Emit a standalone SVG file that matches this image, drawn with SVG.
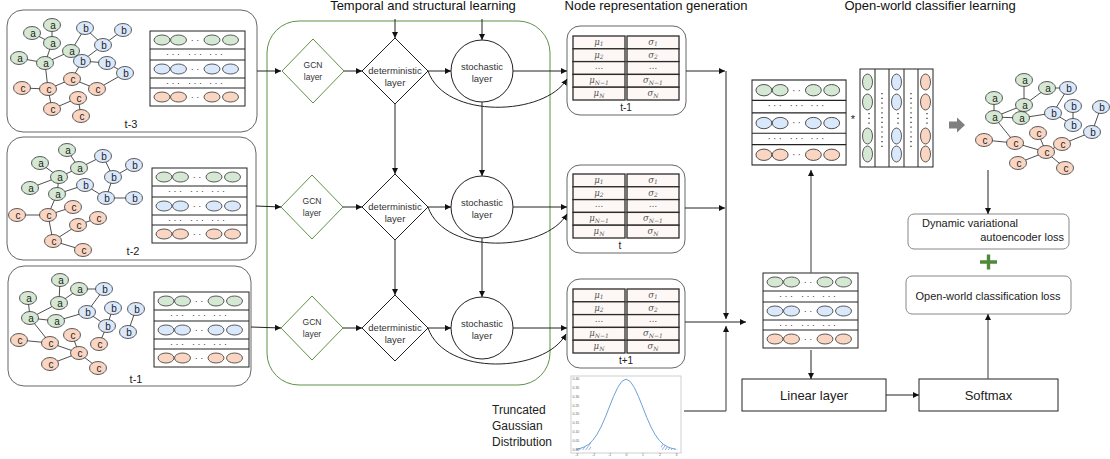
<svg xmlns="http://www.w3.org/2000/svg" xmlns:xlink="http://www.w3.org/1999/xlink" width="1110" height="459" viewBox="0 0 1110 459">
<style>
text{font-family:"Liberation Sans",Arial,sans-serif;fill:#222}
.title{font-size:13px;text-anchor:middle;fill:#111}
.panel{fill:#fff;stroke:#666;stroke-width:1}
.e{stroke:#222;stroke-width:0.8;fill:none}
.na{fill:#d5e8d4;stroke:#333;stroke-width:0.8}
.nb{fill:#dae8fc;stroke:#333;stroke-width:0.8}
.nc{fill:#f9d5c2;stroke:#333;stroke-width:0.8}
.nl{font-size:10px;text-anchor:middle;fill:#222}
.mat{fill:#fff;stroke:#222;stroke-width:1}
.dots{font-size:9px;text-anchor:middle;fill:#333}
.cell{fill:#fdf8f6;stroke:#2e2a2a;stroke-width:1.3}
.mt{font-family:"DejaVu Serif","Liberation Serif",serif;font-style:italic;font-size:8.5px;fill:#555;text-anchor:middle}
.sub{font-size:6px}
.gcn{fill:#fff;stroke:#5f9148;stroke-width:1}
.det{fill:#fff;stroke:#222;stroke-width:1}
.lbl{font-size:9.5px;text-anchor:middle;fill:#333}
.lbls{font-size:8.5px;text-anchor:middle;fill:#333}
.c{stroke:#222;stroke-width:1;fill:none}
.cg{stroke:#666;stroke-width:1.3;fill:none}
.box{fill:#fff;stroke:#222;stroke-width:1}
.loss{fill:#fff;stroke:#888;stroke-width:1}
.tk{font-size:3.5px;fill:#666}
</style>
<defs>
<marker id="ah" viewBox="0 0 10 10" refX="10" refY="5" markerWidth="6" markerHeight="6" markerUnits="userSpaceOnUse" orient="auto"><path d="M0,0 L10,5 L0,10 z" fill="#111"/></marker>
<pattern id="hatch" width="2.5" height="2.5" patternUnits="userSpaceOnUse" patternTransform="rotate(35)"><line x1="0" y1="0" x2="0" y2="2.5" stroke="#3d6fc4" stroke-width="0.9"/></pattern>
<g id="mat">
<rect class="mat" x="0" y="0" width="95" height="75"/>
<path d="M0,18 H95 M0,29 H95 M0,47 H95 M0,57 H95" stroke="#222" stroke-width="1"/>
<ellipse class="na" cx="12" cy="9" rx="8" ry="5"/><ellipse class="na" cx="28.5" cy="9" rx="8" ry="5"/><ellipse class="na" cx="62" cy="9" rx="8" ry="5"/><ellipse class="na" cx="80.5" cy="9" rx="8" ry="5"/>
<ellipse class="nb" cx="12" cy="38" rx="8" ry="5"/><ellipse class="nb" cx="28.5" cy="38" rx="8" ry="5"/><ellipse class="nb" cx="62" cy="38" rx="8" ry="5"/><ellipse class="nb" cx="80.5" cy="38" rx="8" ry="5"/>
<ellipse class="nc" cx="12" cy="66" rx="8" ry="5"/><ellipse class="nc" cx="28.5" cy="66" rx="8" ry="5"/><ellipse class="nc" cx="62" cy="66" rx="8" ry="5"/><ellipse class="nc" cx="80.5" cy="66" rx="8" ry="5"/>
<text class="dots" x="45" y="12">· ·</text><text class="dots" x="45" y="41">· ·</text><text class="dots" x="45" y="69">· ·</text>
<text class="dots" x="23" y="26">· · ·</text><text class="dots" x="45" y="26">· · ·</text><text class="dots" x="66" y="26">· · ·</text>
<text class="dots" x="23" y="55">· · ·</text><text class="dots" x="45" y="55">· · ·</text><text class="dots" x="66" y="55">· · ·</text>
</g>
<g id="tab">
<rect class="cell" x="0" y="0" width="52" height="12.8"/><rect class="cell" x="0" y="12.8" width="52" height="12.8"/><rect class="cell" x="0" y="25.6" width="52" height="12.8"/><rect class="cell" x="0" y="38.4" width="52" height="12.8"/><rect class="cell" x="0" y="51.2" width="52" height="12.8"/>
<rect class="cell" x="54" y="0" width="52" height="12.8"/><rect class="cell" x="54" y="12.8" width="52" height="12.8"/><rect class="cell" x="54" y="25.6" width="52" height="12.8"/><rect class="cell" x="54" y="38.4" width="52" height="12.8"/><rect class="cell" x="54" y="51.2" width="52" height="12.8"/>
<text class="mt" x="26" y="8.8">μ<tspan class="sub" dy="1.6">1</tspan></text>
<text class="mt" x="26" y="21.6">μ<tspan class="sub" dy="1.6">2</tspan></text>
<text class="mt" x="26" y="33">…</text>
<text class="mt" x="26" y="47.2">μ<tspan class="sub" dy="1.6">N−1</tspan></text>
<text class="mt" x="26" y="60">μ<tspan class="sub" dy="1.6">N</tspan></text>
<text class="mt" x="80" y="8.8">σ<tspan class="sub" dy="1.6">1</tspan></text>
<text class="mt" x="80" y="21.6">σ<tspan class="sub" dy="1.6">2</tspan></text>
<text class="mt" x="80" y="33">…</text>
<text class="mt" x="80" y="47.2">σ<tspan class="sub" dy="1.6">N−1</tspan></text>
<text class="mt" x="80" y="60">σ<tspan class="sub" dy="1.6">N</tspan></text>
</g>
</defs>

<rect width="1110" height="459" fill="#fff"/>

<text class="title" x="423" y="10">Temporal and structural learning</text>
<text class="title" x="656" y="10">Node representation generation</text>
<text class="title" x="930" y="10">Open-world classifier learning</text>

<!-- left snapshot panels -->
<g id="snap-t3">
<rect class="panel" x="7" y="10" width="250" height="122" rx="16"/>
<path class="e" d="M52,25 L52,43 M32,33 L52,43 M52,43 L45,63 M19,58 L45,63 M45,63 L71,51 L85,28 M85,28 L103,45 M123,30 L103,45 M103,45 L82,61 M82,61 L107,63 M107,63 L125,73 M125,73 L97,89 M82,61 L72,79 M72,79 L48,89 M22,88 L48,89 M72,79 L97,89 M45,63 L48,89 M48,89 L52,109 M78,98 L52,109 M78,98 L81,116"/>
<ellipse class="na" cx="52" cy="25" rx="8.5" ry="6.5"/><ellipse class="na" cx="32" cy="33" rx="8.5" ry="6.5"/><ellipse class="na" cx="52" cy="43" rx="8.5" ry="6.5"/><ellipse class="na" cx="71" cy="51" rx="8.5" ry="6.5"/><ellipse class="na" cx="19" cy="58" rx="8.5" ry="6.5"/><ellipse class="na" cx="45" cy="63" rx="8.5" ry="6.5"/>
<ellipse class="nb" cx="85" cy="28" rx="8.5" ry="6.5"/><ellipse class="nb" cx="123" cy="30" rx="8.5" ry="6.5"/><ellipse class="nb" cx="103" cy="45" rx="8.5" ry="6.5"/><ellipse class="nb" cx="82" cy="61" rx="8.5" ry="6.5"/><ellipse class="nb" cx="107" cy="63" rx="8.5" ry="6.5"/><ellipse class="nb" cx="125" cy="73" rx="8.5" ry="6.5"/>
<ellipse class="nc" cx="72" cy="79" rx="8.5" ry="6.5"/><ellipse class="nc" cx="22" cy="88" rx="8.5" ry="6.5"/><ellipse class="nc" cx="48" cy="89" rx="8.5" ry="6.5"/><ellipse class="nc" cx="97" cy="89" rx="8.5" ry="6.5"/><ellipse class="nc" cx="78" cy="98" rx="8.5" ry="6.5"/><ellipse class="nc" cx="52" cy="109" rx="8.5" ry="6.5"/><ellipse class="nc" cx="81" cy="116" rx="8.5" ry="6.5"/>
<text class="nl" x="53" y="28.5">a</text><text class="nl" x="33" y="36.5">a</text><text class="nl" x="53" y="46.5">a</text><text class="nl" x="72" y="54.5">a</text><text class="nl" x="20" y="61.5">a</text><text class="nl" x="46" y="66.5">a</text>
<text class="nl" x="86" y="31.5">b</text><text class="nl" x="124" y="33.5">b</text><text class="nl" x="104" y="48.5">b</text><text class="nl" x="83" y="64.5">b</text><text class="nl" x="108" y="66.5">b</text><text class="nl" x="126" y="76.5">b</text>
<text class="nl" x="73" y="82.5">c</text><text class="nl" x="23" y="91.5">c</text><text class="nl" x="49" y="92.5">c</text><text class="nl" x="98" y="92.5">c</text><text class="nl" x="79" y="101.5">c</text><text class="nl" x="53" y="112.5">c</text><text class="nl" x="82" y="119.5">c</text>
<use href="#mat" x="150" y="31"/>
<text x="131" y="128" font-size="11" text-anchor="middle">t-3</text>
</g>

<g id="snap-t2">
<rect class="panel" x="7" y="137" width="249" height="123" rx="16"/>
<path class="e" d="M67,150 L79,168 M40,163 L59,177 M59,177 L79,168 M79,168 L103,156 M30,188 L59,177 M57,194 L85,185 M59,177 L57,194 M103,156 L113,177 M134,165 L113,177 M113,177 L106,198 M85,185 L106,198 M106,198 L134,198 M73,207 L48,215 M17,215 L48,215 M57,194 L48,215 M48,215 L53,241 M53,241 L78,225 M78,225 L98,218 M53,241 L83,250"/>
<ellipse class="na" cx="67" cy="150" rx="8.5" ry="6.5"/><ellipse class="na" cx="40" cy="163" rx="8.5" ry="6.5"/><ellipse class="na" cx="79" cy="168" rx="8.5" ry="6.5"/><ellipse class="na" cx="59" cy="177" rx="8.5" ry="6.5"/><ellipse class="na" cx="30" cy="188" rx="8.5" ry="6.5"/><ellipse class="na" cx="57" cy="194" rx="8.5" ry="6.5"/>
<ellipse class="nb" cx="103" cy="156" rx="8.5" ry="6.5"/><ellipse class="nb" cx="134" cy="165" rx="8.5" ry="6.5"/><ellipse class="nb" cx="113" cy="177" rx="8.5" ry="6.5"/><ellipse class="nb" cx="85" cy="185" rx="8.5" ry="6.5"/><ellipse class="nb" cx="106" cy="198" rx="8.5" ry="6.5"/><ellipse class="nb" cx="134" cy="198" rx="8.5" ry="6.5"/>
<ellipse class="nc" cx="73" cy="207" rx="8.5" ry="6.5"/><ellipse class="nc" cx="17" cy="215" rx="8.5" ry="6.5"/><ellipse class="nc" cx="48" cy="215" rx="8.5" ry="6.5"/><ellipse class="nc" cx="98" cy="218" rx="8.5" ry="6.5"/><ellipse class="nc" cx="78" cy="225" rx="8.5" ry="6.5"/><ellipse class="nc" cx="53" cy="241" rx="8.5" ry="6.5"/><ellipse class="nc" cx="83" cy="250" rx="8.5" ry="6.5"/>
<text class="nl" x="68" y="153.5">a</text><text class="nl" x="41" y="166.5">a</text><text class="nl" x="80" y="171.5">a</text><text class="nl" x="60" y="180.5">a</text><text class="nl" x="31" y="191.5">a</text><text class="nl" x="58" y="197.5">a</text>
<text class="nl" x="104" y="159.5">b</text><text class="nl" x="135" y="168.5">b</text><text class="nl" x="114" y="180.5">b</text><text class="nl" x="86" y="188.5">b</text><text class="nl" x="107" y="201.5">b</text><text class="nl" x="135" y="201.5">b</text>
<text class="nl" x="74" y="210.5">c</text><text class="nl" x="18" y="218.5">c</text><text class="nl" x="49" y="218.5">c</text><text class="nl" x="99" y="221.5">c</text><text class="nl" x="79" y="228.5">c</text><text class="nl" x="54" y="244.5">c</text><text class="nl" x="84" y="253.5">c</text>
<use href="#mat" x="152" y="168"/>
<text x="133" y="255" font-size="11" text-anchor="middle">t-2</text>
</g>

<g id="snap-t1">
<rect class="panel" x="8" y="266" width="243" height="120" rx="16"/>
<path class="e" d="M60,280 L59,303 M59,303 L79,289 M79,289 L104,289 M28,298 L30,318 M30,318 L59,303 M30,318 L56,321 M30,318 L50,343 M56,321 L87,312 M104,289 L87,312 M87,312 L107,326 M113,308 L107,326 M136,309 L128,332 M107,326 L99,344 M19,340 L50,343 M50,343 L79,353 M72,335 L79,353 M79,353 L50,364 M79,353 L98,368"/>
<ellipse class="na" cx="60" cy="280" rx="8.5" ry="6.5"/><ellipse class="na" cx="79" cy="289" rx="8.5" ry="6.5"/><ellipse class="na" cx="28" cy="298" rx="8.5" ry="6.5"/><ellipse class="na" cx="59" cy="303" rx="8.5" ry="6.5"/><ellipse class="na" cx="30" cy="318" rx="8.5" ry="6.5"/><ellipse class="na" cx="56" cy="321" rx="8.5" ry="6.5"/>
<ellipse class="nb" cx="104" cy="289" rx="8.5" ry="6.5"/><ellipse class="nb" cx="113" cy="308" rx="8.5" ry="6.5"/><ellipse class="nb" cx="136" cy="309" rx="8.5" ry="6.5"/><ellipse class="nb" cx="87" cy="312" rx="8.5" ry="6.5"/><ellipse class="nb" cx="107" cy="326" rx="8.5" ry="6.5"/><ellipse class="nb" cx="128" cy="332" rx="8.5" ry="6.5"/>
<ellipse class="nc" cx="72" cy="335" rx="8.5" ry="6.5"/><ellipse class="nc" cx="19" cy="340" rx="8.5" ry="6.5"/><ellipse class="nc" cx="50" cy="343" rx="8.5" ry="6.5"/><ellipse class="nc" cx="99" cy="344" rx="8.5" ry="6.5"/><ellipse class="nc" cx="79" cy="353" rx="8.5" ry="6.5"/><ellipse class="nc" cx="50" cy="364" rx="8.5" ry="6.5"/><ellipse class="nc" cx="98" cy="368" rx="8.5" ry="6.5"/>
<text class="nl" x="61" y="283.5">a</text><text class="nl" x="80" y="292.5">a</text><text class="nl" x="29" y="301.5">a</text><text class="nl" x="60" y="306.5">a</text><text class="nl" x="31" y="321.5">a</text><text class="nl" x="57" y="324.5">a</text>
<text class="nl" x="105" y="292.5">b</text><text class="nl" x="114" y="311.5">b</text><text class="nl" x="137" y="312.5">b</text><text class="nl" x="88" y="315.5">b</text><text class="nl" x="108" y="329.5">b</text><text class="nl" x="129" y="335.5">b</text>
<text class="nl" x="73" y="338.5">c</text><text class="nl" x="20" y="343.5">c</text><text class="nl" x="51" y="346.5">c</text><text class="nl" x="100" y="347.5">c</text><text class="nl" x="80" y="356.5">c</text><text class="nl" x="51" y="367.5">c</text><text class="nl" x="99" y="371.5">c</text>
<use href="#mat" x="154" y="292"/>
<text x="136" y="383" font-size="11" text-anchor="middle">t-1</text>
</g>

<!-- temporal and structural learning frame -->
<g id="tsl-frame"><rect x="267" y="21" width="283" height="364" rx="32" fill="none" stroke="#5f9148" stroke-width="1"/></g>

<g id="gcn1"><path class="gcn" d="M313,39 L344,71 L313,103 L282,71 Z"/><text class="lbls" x="313" y="68">GCN</text><text class="lbls" x="313" y="80">layer</text></g>
<g id="gcn2"><path class="gcn" d="M312,175 L343,207 L312,239 L281,207 Z"/><text class="lbls" x="312" y="204">GCN</text><text class="lbls" x="312" y="216">layer</text></g>
<g id="gcn3"><path class="gcn" d="M312,296 L343,328 L312,360 L281,328 Z"/><text class="lbls" x="312" y="325">GCN</text><text class="lbls" x="312" y="337">layer</text></g>

<g id="det1"><path class="det" d="M395,38 L428,71 L395,104 L362,71 Z"/><text class="lbl" x="395" y="74">deterministic</text><text class="lbl" x="395" y="86">layer</text></g>
<g id="det2"><path class="det" d="M395,174 L428,207 L395,240 L362,207 Z"/><text class="lbl" x="395" y="210">deterministic</text><text class="lbl" x="395" y="222">layer</text></g>
<g id="det3"><path class="det" d="M395,295 L428,328 L395,361 L362,328 Z"/><text class="lbl" x="395" y="331">deterministic</text><text class="lbl" x="395" y="343">layer</text></g>

<g id="sto1"><circle class="det" cx="482" cy="71" r="31"/><text class="lbl" x="482" y="70">stochastic</text><text class="lbl" x="482" y="82">layer</text></g>
<g id="sto2"><circle class="det" cx="482" cy="207" r="31"/><text class="lbl" x="482" y="206">stochastic</text><text class="lbl" x="482" y="218">layer</text></g>
<g id="sto3"><circle class="det" cx="482" cy="328" r="31"/><text class="lbl" x="482" y="327">stochastic</text><text class="lbl" x="482" y="339">layer</text></g>

<!-- node representation panels -->
<g id="rep1"><rect class="panel" x="567" y="26" width="119" height="89" rx="13"/><use href="#tab" x="573" y="36"/><text x="626" y="111" font-size="10" text-anchor="middle">t-1</text></g>
<g id="rep2"><rect class="panel" x="567" y="165" width="118" height="88" rx="13"/><use href="#tab" x="573" y="174"/><text x="620" y="249" font-size="10" text-anchor="middle">t</text></g>
<g id="rep3"><rect class="panel" x="567" y="279" width="118" height="89" rx="13"/><use href="#tab" x="573" y="289"/><text x="626" y="364" font-size="10" text-anchor="middle">t+1</text></g>

<!-- truncated gaussian -->
<g id="gauss">
<text x="492" y="414" font-size="12">Truncated</text>
<text x="492" y="430" font-size="12">Gaussian</text>
<text x="492" y="446" font-size="12">Distribution</text>
<rect x="571" y="376" width="110" height="77" fill="#fff" stroke="#cfcfcf" stroke-width="1"/>
<path d="M574,450 L576,449.2 L580.2,448.4 L584.3,446.9 L588.5,444.4 L591,442 L591,450 Z" fill="url(#hatch)"/>
<path d="M661,442 L663.5,444.4 L667.7,446.9 L671.8,448.4 L676,449.2 L679,450 L661,450 Z" fill="url(#hatch)"/>
<path d="M576,449.2 L580.2,448.4 L584.3,446.9 L588.5,444.4 L592.7,440.4 L596.8,434.7 L601,427 L605.2,417.6 L609.3,407 L613.5,396.6 L617.7,387.5 L621.8,381.4 L626,379.2 L630.2,381.4 L634.3,387.5 L638.5,396.6 L642.7,407 L646.8,417.6 L651,427 L655.2,434.7 L659.3,440.4 L663.5,444.4 L667.7,446.9 L671.8,448.4 L676,449.2" fill="none" stroke="#6fa0d8" stroke-width="1" stroke-linejoin="round"/>
<text class="tk" x="572.5" y="380">0.40</text><text class="tk" x="572.5" y="389">0.35</text><text class="tk" x="572.5" y="398">0.30</text><text class="tk" x="572.5" y="407">0.25</text><text class="tk" x="572.5" y="415">0.20</text><text class="tk" x="572.5" y="424">0.15</text><text class="tk" x="572.5" y="433">0.10</text><text class="tk" x="572.5" y="442">0.05</text><text class="tk" x="572.5" y="451">0.00</text>
<text class="tk" x="575" y="456">-3</text><text class="tk" x="592" y="456">-2</text><text class="tk" x="608" y="456">-1</text><text class="tk" x="625.5" y="456">0</text><text class="tk" x="642" y="456">1</text><text class="tk" x="659" y="456">2</text><text class="tk" x="675.5" y="456">3</text>
</g>

<!-- right side -->
<g id="emb-matrix"><use href="#mat" x="763" y="273"/></g>
<g id="emb-top"><use href="#mat" transform="translate(752,80) scale(0.99,1.133)"/></g>
<text x="853" y="123" font-size="11" text-anchor="middle">*</text>
<g id="emb-cols">
<rect class="mat" x="860" y="69" width="73" height="98"/>
<path d="M875,69 V167 M889,69 V167 M904,69 V167 M918,69 V167" stroke="#222" stroke-width="1"/>
<ellipse class="na" cx="867.5" cy="82" rx="5" ry="8"/><ellipse class="na" cx="867.5" cy="102" rx="5" ry="8"/><ellipse class="na" cx="867.5" cy="136" rx="5" ry="8"/><ellipse class="na" cx="867.5" cy="154" rx="5" ry="8"/>
<ellipse class="nb" cx="896.5" cy="82" rx="5" ry="8"/><ellipse class="nb" cx="896.5" cy="102" rx="5" ry="8"/><ellipse class="nb" cx="896.5" cy="136" rx="5" ry="8"/><ellipse class="nb" cx="896.5" cy="154" rx="5" ry="8"/>
<ellipse class="nc" cx="925.5" cy="82" rx="5" ry="8"/><ellipse class="nc" cx="925.5" cy="102" rx="5" ry="8"/><ellipse class="nc" cx="925.5" cy="136" rx="5" ry="8"/><ellipse class="nc" cx="925.5" cy="154" rx="5" ry="8"/>
<path d="M882,93 V148 M911,93 V148 M869,113 V127 M898,113 V127 M927,113 V127" stroke="#333" stroke-width="1.3" stroke-dasharray="1.2 3.6" fill="none"/>
</g>
<g id="block-arrow"><path d="M949,121.5 H957 V117.5 L965,125 L957,132.5 V128.5 H949 Z" fill="#7f7f7f"/></g>

<g id="graph-out">
<path class="e" d="M1024,80 L1024,105 M1024,105 L1047,88 M1047,88 L1068,88 M994,98 L994,117 M994,117 L1024,105 M994,117 L1021,118 M994,117 L1015,143 M1021,118 L1053,113 M1068,88 L1053,113 M1053,113 L1073,125 M1073,106 L1073,125 M1101,107 L1092,132 M1092,132 L1062,144 M984,140 L1015,143 M1015,143 L1046,152 M1038,133 L1046,152 M1046,152 L1062,144 M1046,152 L1018,163 M1046,152 L1065,168"/>
<ellipse class="na" cx="1024" cy="80" rx="8.5" ry="6.5"/><ellipse class="na" cx="1047" cy="88" rx="8.5" ry="6.5"/><ellipse class="na" cx="994" cy="98" rx="8.5" ry="6.5"/><ellipse class="na" cx="1024" cy="105" rx="8.5" ry="6.5"/><ellipse class="na" cx="994" cy="117" rx="8.5" ry="6.5"/><ellipse class="na" cx="1021" cy="118" rx="8.5" ry="6.5"/>
<ellipse class="nb" cx="1068" cy="88" rx="8.5" ry="6.5"/><ellipse class="nb" cx="1073" cy="106" rx="8.5" ry="6.5"/><ellipse class="nb" cx="1101" cy="107" rx="8.5" ry="6.5"/><ellipse class="nb" cx="1053" cy="113" rx="8.5" ry="6.5"/><ellipse class="nb" cx="1073" cy="125" rx="8.5" ry="6.5"/><ellipse class="nb" cx="1092" cy="132" rx="8.5" ry="6.5"/>
<ellipse class="nc" cx="984" cy="140" rx="8.5" ry="6.5"/><ellipse class="nc" cx="1038" cy="133" rx="8.5" ry="6.5"/><ellipse class="nc" cx="1015" cy="143" rx="8.5" ry="6.5"/><ellipse class="nc" cx="1062" cy="144" rx="8.5" ry="6.5"/><ellipse class="nc" cx="1046" cy="152" rx="8.5" ry="6.5"/><ellipse class="nc" cx="1018" cy="163" rx="8.5" ry="6.5"/><ellipse class="nc" cx="1065" cy="168" rx="8.5" ry="6.5"/>
<text class="nl" x="1025" y="83.5">a</text><text class="nl" x="1048" y="91.5">a</text><text class="nl" x="995" y="101.5">a</text><text class="nl" x="1025" y="108.5">a</text><text class="nl" x="995" y="120.5">a</text><text class="nl" x="1022" y="121.5">a</text>
<text class="nl" x="1069" y="91.5">b</text><text class="nl" x="1074" y="109.5">b</text><text class="nl" x="1102" y="110.5">b</text><text class="nl" x="1054" y="116.5">b</text><text class="nl" x="1074" y="128.5">b</text><text class="nl" x="1093" y="135.5">b</text>
<text class="nl" x="985" y="143.5">c</text><text class="nl" x="1039" y="136.5">c</text><text class="nl" x="1016" y="146.5">c</text><text class="nl" x="1063" y="147.5">c</text><text class="nl" x="1047" y="155.5">c</text><text class="nl" x="1019" y="166.5">c</text><text class="nl" x="1066" y="171.5">c</text>
</g>

<g id="dvae-loss"><rect class="loss" x="908" y="214" width="161" height="35" rx="6"/><text x="922" y="227" font-size="11">Dynamic variational</text><text x="1064" y="241" font-size="11" text-anchor="end">autoencoder loss</text></g>
<g id="plus"><path d="M980,262 H997 M988.5,254.5 V269.5" stroke="#4e8a3a" stroke-width="3.4"/></g>
<g id="owc-loss"><rect class="loss" x="906" y="276" width="165" height="38" rx="6"/><text x="988" y="300" font-size="11" text-anchor="middle">Open-world classification loss</text></g>
<g id="linear"><rect class="box" x="742" y="379" width="144" height="32"/><text x="814" y="400" font-size="13" text-anchor="middle">Linear layer</text></g>
<g id="softmax"><rect class="box" x="919" y="379" width="139" height="32"/><text x="988.5" y="400" font-size="13" text-anchor="middle">Softmax</text></g>

<!-- connectors -->
<g id="connectors">
<path class="c" d="M257,71 H281" marker-end="url(#ah)"/>
<path class="c" d="M256,206 L281,207" marker-end="url(#ah)"/>
<path class="c" d="M251,327 L281,328" marker-end="url(#ah)"/>
<path class="c" d="M344,71 H362" marker-end="url(#ah)"/>
<path class="c" d="M343,207 H362" marker-end="url(#ah)"/>
<path class="c" d="M343,328 H362" marker-end="url(#ah)"/>
<path class="c" d="M428,71 H451" marker-end="url(#ah)"/>
<path class="c" d="M428,207 H451" marker-end="url(#ah)"/>
<path class="c" d="M428,328 H451" marker-end="url(#ah)"/>
<path class="c" d="M513,71 H567" marker-end="url(#ah)"/>
<path class="c" d="M513,207 H567" marker-end="url(#ah)"/>
<path class="c" d="M513,328 H567" marker-end="url(#ah)"/>
<path class="c" d="M428,71 C445,120 545,116 567,79" marker-end="url(#ah)"/>
<path class="c" d="M428,207 C445,256 545,252 567,214" marker-end="url(#ah)"/>
<path class="c" d="M428,328 C445,377 545,373 566,334" marker-end="url(#ah)"/>
<path class="c" d="M395,19 V38" marker-end="url(#ah)"/>
<path class="c" d="M482,19 V40" marker-end="url(#ah)"/>
<path class="c" d="M395,104 V174" marker-end="url(#ah)"/>
<path class="c" d="M395,240 V295" marker-end="url(#ah)"/>
<path class="c" d="M482,102 V176" marker-end="url(#ah)"/>
<path class="c" d="M482,238 V297" marker-end="url(#ah)"/>
<path class="c" d="M686,71 H725" marker-end="url(#ah)"/>
<path class="c" d="M685,208 H725" marker-end="url(#ah)"/>
<path class="c" d="M726,71 V319" marker-end="url(#ah)"/>
<path class="c" d="M685,322 H746" marker-end="url(#ah)"/>
<path class="c" d="M684,411 H726"/>
<path class="cg" d="M726,411 V326" marker-end="url(#ah)"/>
<path class="cg" d="M811,273 V170" marker-end="url(#ah)"/>
<path class="c" d="M811,350 V379" marker-end="url(#ah)"/>
<path class="c" d="M886,395 H919" marker-end="url(#ah)"/>
<path class="cg" d="M988,379 V314" marker-end="url(#ah)"/>
<path class="c" d="M988,170 V214" marker-end="url(#ah)"/>
</g>
</svg>
